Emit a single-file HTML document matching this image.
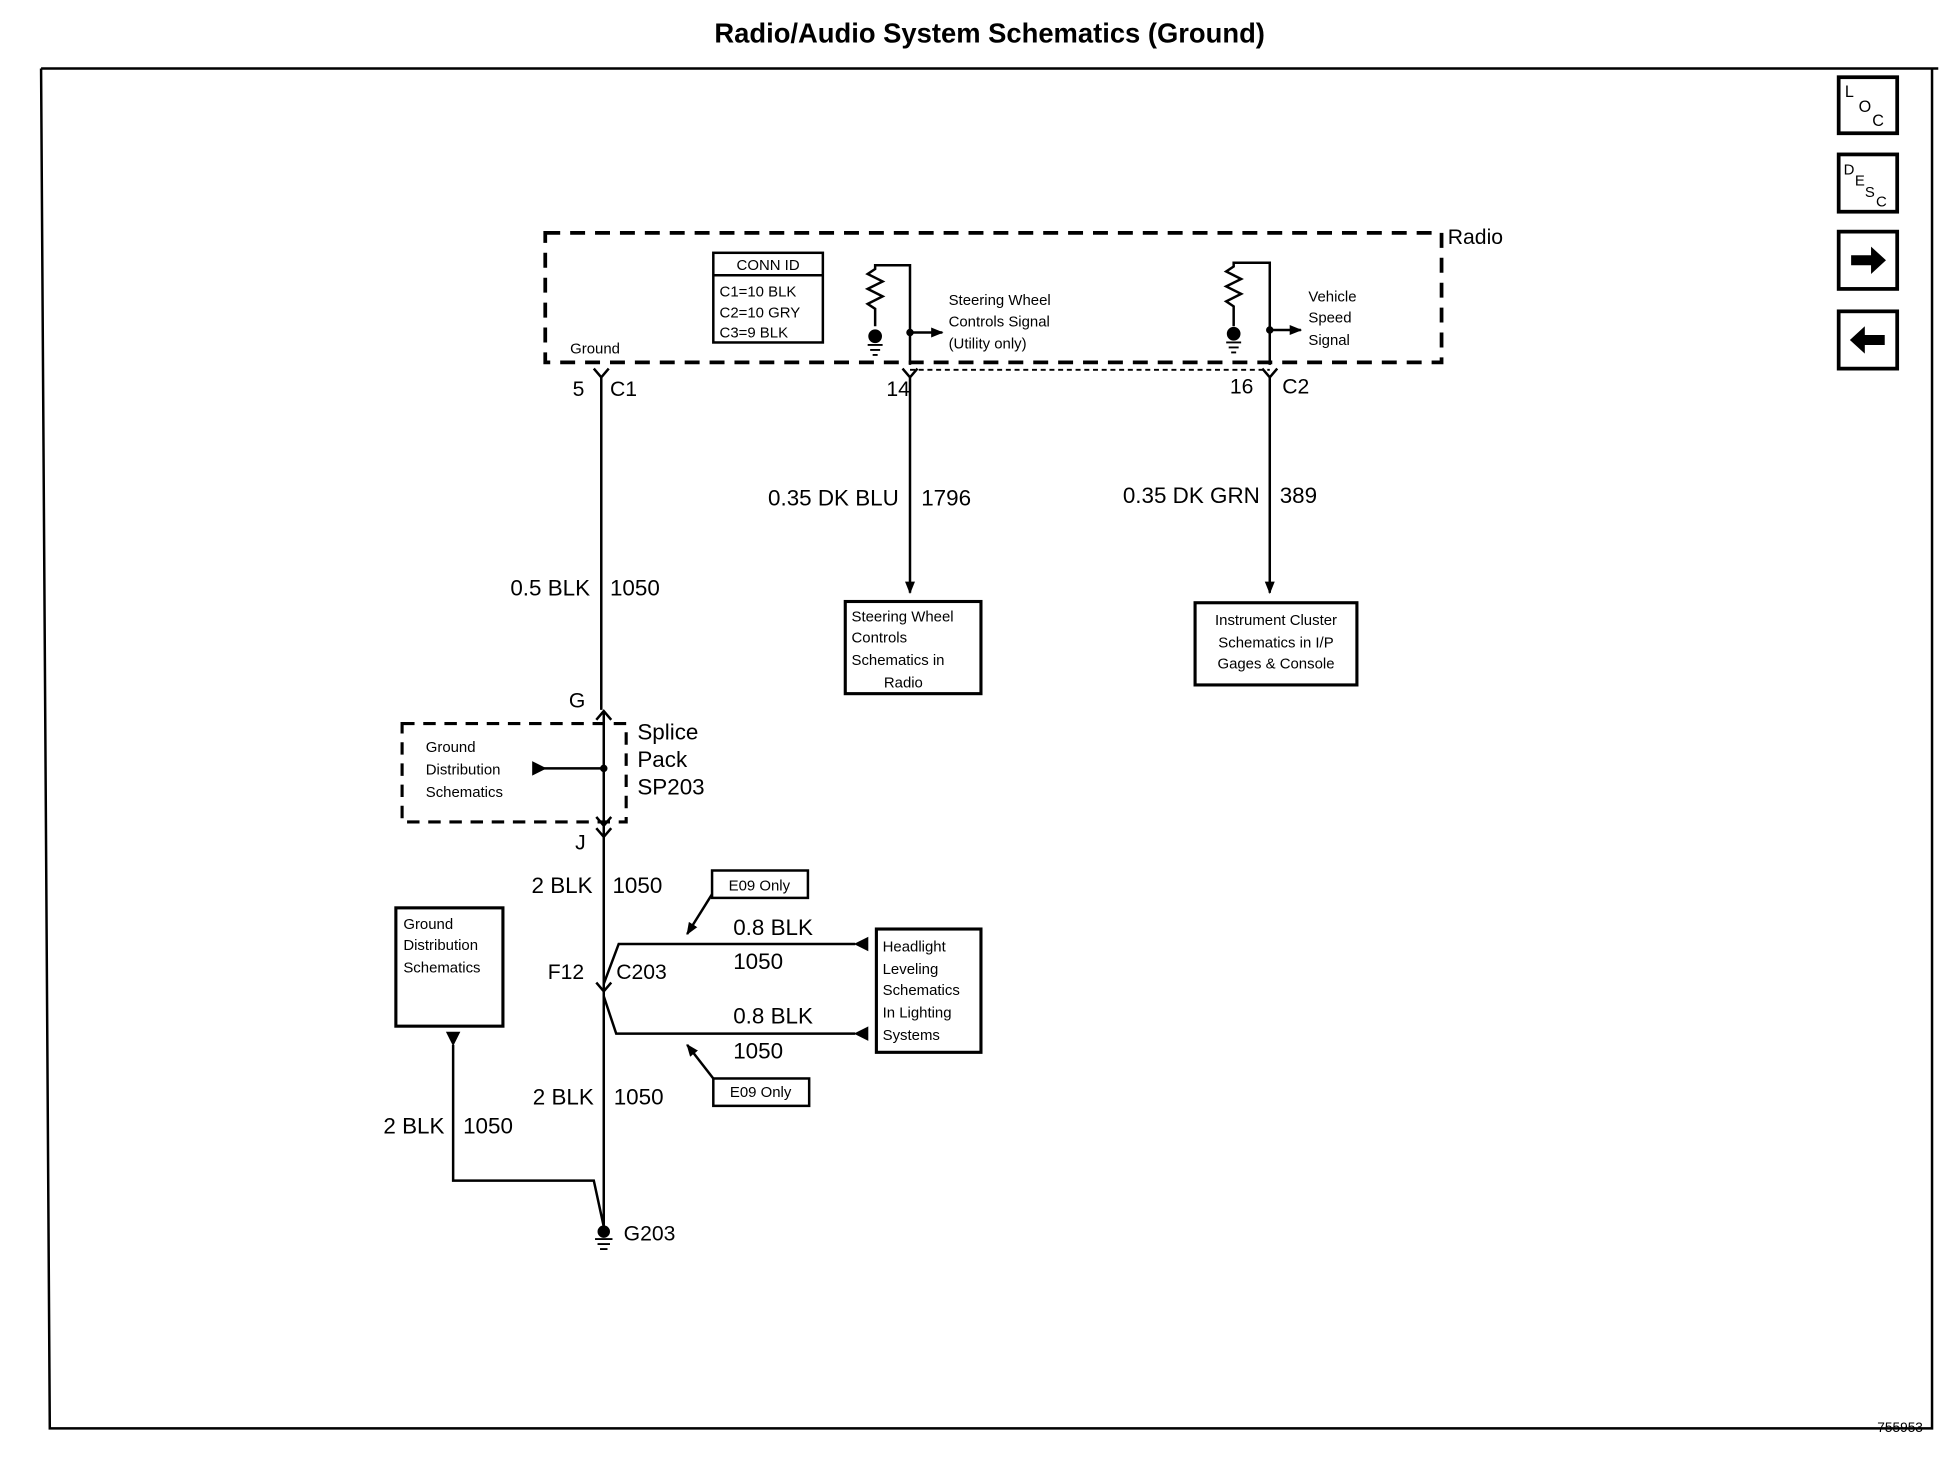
<!DOCTYPE html>
<html><head><meta charset="utf-8"><style>
html,body{margin:0;padding:0;background:#fff}
svg{display:block}
text{font-family:"Liberation Sans",Arial,sans-serif;fill:#000}
</style></head><body>
<svg width="1942" height="1472" viewBox="0 0 1560 1182" preserveAspectRatio="none" xmlns="http://www.w3.org/2000/svg">
<defs>
<marker id="ar" markerWidth="10" markerHeight="10" refX="9" refY="5" orient="auto" markerUnits="userSpaceOnUse">
<path d="M0,1 L10,5 L0,9 Z" fill="#000"/></marker>
</defs>
<g stroke="#000" fill="none">
<text x="795" y="34" font-size="22" font-weight="bold" text-anchor="middle" stroke="none">Radio/Audio System Schematics (Ground)</text>
<path d="M33,55 L1557,55 M33,55 L40,1147 L1552,1147 L1552,55" stroke-width="2"/>
<text x="1508" y="1150" font-size="11" stroke="none">755953</text>

<rect x="1477" y="62" width="47" height="45" stroke-width="3"/>
<text x="1482" y="78" font-size="13" stroke="none">L</text><text x="1493" y="90" font-size="13" stroke="none">O</text><text x="1504" y="101" font-size="13" stroke="none">C</text>
<rect x="1477" y="124" width="47" height="46" stroke-width="3"/>
<text x="1481" y="140" font-size="12" stroke="none">D</text><text x="1490" y="149" font-size="12" stroke="none">E</text><text x="1498" y="158" font-size="12" stroke="none">S</text><text x="1507" y="166" font-size="12" stroke="none">C</text>
<rect x="1477" y="186" width="47" height="46" stroke-width="3"/>
<path d="M1487,205 L1503,205 L1503,198 L1515,209 L1503,220 L1503,213 L1487,213 Z" fill="#000" stroke="none"/>
<rect x="1477" y="250" width="47" height="46" stroke-width="3"/>
<path d="M1514,269 L1498,269 L1498,262 L1486,273 L1498,284 L1498,277 L1514,277 Z" fill="#000" stroke="none"/>

<rect x="438" y="187" width="720" height="104" stroke-width="3" stroke-dasharray="12,8"/>
<text x="1163" y="196" font-size="17" stroke="none">Radio</text>

<rect x="573" y="203" width="88" height="72" stroke-width="2"/>
<line x1="573" y1="221" x2="661" y2="221" stroke-width="2"/>
<text x="617" y="217" font-size="12" text-anchor="middle" stroke="none">CONN ID</text>
<text x="578" y="238" font-size="12" stroke="none">C1=10 BLK</text>
<text x="578" y="255" font-size="12" stroke="none">C2=10 GRY</text>
<text x="578" y="271" font-size="12" stroke="none">C3=9 BLK</text>
<text x="458" y="284" font-size="12" stroke="none">Ground</text>

<path d="M477,296 L483,303 L489,296 M483,303 L483,570" stroke-width="2"/>
<text x="460" y="318" font-size="17" stroke="none">5</text><text x="490" y="318" font-size="17" stroke="none">C1</text>
<text x="474" y="478" font-size="18" text-anchor="end" stroke="none">0.5 BLK</text>
<text x="490" y="478" font-size="18" stroke="none">1050</text>

<path d="M703,262 L703,248 L697,244 L709,238 L697,232 L709,226 L697,220 L703,216 L703,213 L731,213 L731,293" stroke-width="2"/>
<circle cx="703" cy="270" r="5" fill="#000"/>
<path d="M697,277 L709,277 M699,281 L707,281 M701,285 L705,285" stroke-width="1.5"/>
<line x1="731" y1="267" x2="757" y2="267" stroke-width="2" marker-end="url(#ar)"/>
<circle cx="731" cy="267" r="2.5" fill="#000"/>
<text x="762" y="245" font-size="12" stroke="none">Steering Wheel</text>
<text x="762" y="262" font-size="12" stroke="none">Controls Signal</text>
<text x="762" y="280" font-size="12" stroke="none">(Utility only)</text>

<path d="M991,262 L991,246 L985,242 L997,236 L985,230 L997,224 L985,218 L991,214 L991,211 L1020,211 L1020,293" stroke-width="2"/>
<circle cx="991" cy="268" r="5" fill="#000"/>
<path d="M985,275 L997,275 M987,279 L995,279 M989,283 L993,283" stroke-width="1.5"/>
<line x1="1020" y1="265" x2="1045" y2="265" stroke-width="2" marker-end="url(#ar)"/>
<circle cx="1020" cy="265" r="2.5" fill="#000"/>
<text x="1051" y="242" font-size="12" stroke="none">Vehicle</text>
<text x="1051" y="259" font-size="12" stroke="none">Speed</text>
<text x="1051" y="277" font-size="12" stroke="none">Signal</text>

<line x1="731" y1="297" x2="1020" y2="297" stroke-width="1.5" stroke-dasharray="4,3"/>
<path d="M725,296 L731,303 L737,296 M731,303 L731,476" stroke-width="2" marker-end="url(#ar)"/>
<text x="712" y="318" font-size="17" stroke="none">14</text>
<text x="722" y="406" font-size="18" text-anchor="end" stroke="none">0.35 DK BLU</text>
<text x="740" y="406" font-size="18" stroke="none">1796</text>
<path d="M1014,296 L1020,303 L1026,296 M1020,303 L1020,476" stroke-width="2" marker-end="url(#ar)"/>
<text x="988" y="316" font-size="17" stroke="none">16</text><text x="1030" y="316" font-size="17" stroke="none">C2</text>
<text x="1012" y="404" font-size="18" text-anchor="end" stroke="none">0.35 DK GRN</text>
<text x="1028" y="404" font-size="18" stroke="none">389</text>

<rect x="679" y="483" width="109" height="74" stroke-width="2.5"/>
<text x="684" y="499" font-size="12" stroke="none">Steering Wheel</text>
<text x="684" y="516" font-size="12" stroke="none">Controls</text>
<text x="684" y="534" font-size="12" stroke="none">Schematics in</text>
<text x="710" y="552" font-size="12" stroke="none">Radio</text>
<rect x="960" y="484" width="130" height="66" stroke-width="2.5"/>
<text x="1025" y="502" font-size="12" text-anchor="middle" stroke="none">Instrument Cluster</text>
<text x="1025" y="520" font-size="12" text-anchor="middle" stroke="none">Schematics in I/P</text>
<text x="1025" y="537" font-size="12" text-anchor="middle" stroke="none">Gages &amp; Console</text>

<text x="457" y="568" font-size="17" stroke="none">G</text>
<rect x="323" y="581" width="180" height="79" stroke-width="2.5" stroke-dasharray="10,7"/>
<path d="M479,578 L485,571 L491,578 M485,571 L485,663 M479,656 L485,663 L491,656 M485,663 L485,985" stroke-width="2"/>
<circle cx="485" cy="617" r="2.5" fill="#000"/>
<line x1="485" y1="617" x2="430" y2="617" stroke-width="2"/>
<path d="M428,612 L438,617 L428,622 Z" fill="#000"/>
<text x="342" y="604" font-size="12" stroke="none">Ground</text>
<text x="342" y="622" font-size="12" stroke="none">Distribution</text>
<text x="342" y="640" font-size="12" stroke="none">Schematics</text>
<text x="512" y="594" font-size="18" stroke="none">Splice</text>
<text x="512" y="616" font-size="18" stroke="none">Pack</text>
<text x="512" y="638" font-size="18" stroke="none">SP203</text>
<text x="462" y="682" font-size="17" stroke="none">J</text>
<path d="M479,665 L485,672 L491,665" stroke-width="2"/>
<text x="476" y="717" font-size="18" text-anchor="end" stroke="none">2 BLK</text>
<text x="492" y="717" font-size="18" stroke="none">1050</text>

<rect x="572" y="699" width="77" height="22" stroke-width="2"/>
<text x="610" y="715" font-size="12" text-anchor="middle" stroke="none">E09 Only</text>
<line x1="572" y1="718" x2="552" y2="750" stroke-width="2" marker-end="url(#ar)"/>
<rect x="573" y="866" width="77" height="22" stroke-width="2"/>
<text x="611" y="881" font-size="12" text-anchor="middle" stroke="none">E09 Only</text>
<line x1="573" y1="866" x2="552" y2="839" stroke-width="2" marker-end="url(#ar)"/>

<rect x="704" y="746" width="84" height="99" stroke-width="2.5"/>
<text x="709" y="764" font-size="12" stroke="none">Headlight</text>
<text x="709" y="782" font-size="12" stroke="none">Leveling</text>
<text x="709" y="799" font-size="12" stroke="none">Schematics</text>
<text x="709" y="817" font-size="12" stroke="none">In Lighting</text>
<text x="709" y="835" font-size="12" stroke="none">Systems</text>

<path d="M687,758 L497,758 L485,790 M485,800 L495,830 L687,830" stroke-width="2"/>
<path d="M697,753 L687,758 L697,763 Z M697,825 L687,830 L697,835 Z" fill="#000"/>
<path d="M479,789 L485,796 L491,789" stroke-width="2"/>
<text x="589" y="751" font-size="18" stroke="none">0.8 BLK</text>
<text x="589" y="778" font-size="18" stroke="none">1050</text>
<text x="589" y="822" font-size="18" stroke="none">0.8 BLK</text>
<text x="589" y="850" font-size="18" stroke="none">1050</text>
<text x="440" y="786" font-size="17" stroke="none">F12</text>
<text x="495" y="786" font-size="17" stroke="none">C203</text>
<text x="477" y="887" font-size="18" text-anchor="end" stroke="none">2 BLK</text>
<text x="493" y="887" font-size="18" stroke="none">1050</text>

<rect x="318" y="729" width="86" height="95" stroke-width="2.5"/>
<text x="324" y="746" font-size="12" stroke="none">Ground</text>
<text x="324" y="763" font-size="12" stroke="none">Distribution</text>
<text x="324" y="781" font-size="12" stroke="none">Schematics</text>
<path d="M359,829 L369,829 L364,839 Z" fill="#000"/>
<path d="M364,839 L364,948 L477,948 L485,985" stroke-width="2"/>
<text x="357" y="910" font-size="18" text-anchor="end" stroke="none">2 BLK</text>
<text x="372" y="910" font-size="18" stroke="none">1050</text>
<circle cx="485" cy="989" r="4.5" fill="#000"/>
<path d="M478,995 L492,995 M480,999 L490,999 M482,1003 L488,1003" stroke-width="1.5"/>
<text x="501" y="996" font-size="17" stroke="none">G203</text>
</g>
</svg>
</body></html>
